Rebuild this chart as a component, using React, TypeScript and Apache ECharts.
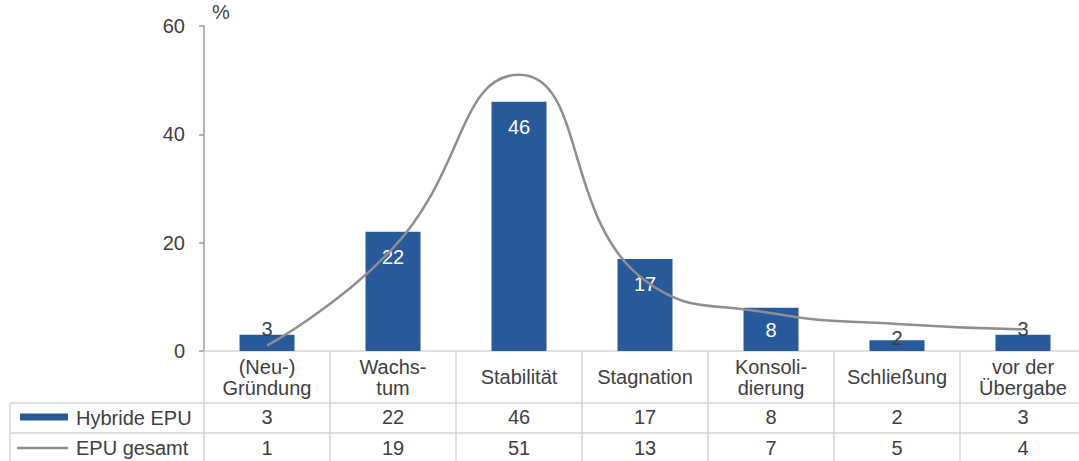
import React, { useEffect, useRef } from "react";
import * as echarts from "echarts";

// Phases of the business life cycle (category axis)
const categories = [
  "(Neu-)\nGründung",
  "Wachs-\ntum",
  "Stabilität",
  "Stagnation",
  "Konsoli-\ndierung",
  "Schließung",
  "vor der\nÜbergabe",
];

// Shares in percent
const hybrideEPU = [3, 22, 46, 17, 8, 2, 3];
const epuGesamt = [1, 19, 51, 13, 7, 5, 4];

const seriesNames = ["Hybride EPU", "EPU gesamt"];

// Value axis range
const yMin = 0;
const yMax = 60;
const yStep = 20;

const BAR_COLOR = "#285a9b";
const LINE_COLOR = "#8e8e8e";
const TEXT_COLOR = "#404040";
const TABLE_LINE = "#d6d6d6";
const FONT = "'Liberation Sans', Arial, sans-serif";
const FS = 20;

// Label placement per bar: tall bars carry the value inside, short ones just above
function barLabel(v: number) {
  if (v >= 8) {
    return {
      show: true,
      position: "insideTop",
      distance: v >= 10 ? 15 : 12,
      color: "#ffffff",
    };
  }
  return {
    show: true,
    position: "top",
    distance: v <= 2 ? -8 : -4,
    color: TEXT_COLOR,
  };
}

export default function App() {
  const ref = useRef<HTMLDivElement>(null);

  useEffect(() => {
    if (!ref.current) return;
    const chart = echarts.init(ref.current, undefined, { renderer: "svg" });

    const tableRowAxis = (values: number[], margin: number) => ({
      type: "category",
      data: values.map(String),
      position: "bottom",
      axisLine: { show: false },
      axisTick: { show: false },
      splitLine: { show: false },
      axisLabel: {
        margin,
        verticalAlign: "middle",
        fontSize: FS,
        fontFamily: FONT,
        color: TEXT_COLOR,
        interval: 0,
      },
    });

    const legendText = (name: string, y: number) => ({
      type: "text",
      x: 76,
      y,
      style: {
        text: name,
        fontSize: FS,
        fontFamily: FONT,
        fill: TEXT_COLOR,
        verticalAlign: "middle",
        align: "left",
      },
    });

    chart.setOption({
      animation: false,
      textStyle: { fontFamily: FONT },
      grid: { left: 204, right: 4, top: 26, bottom: 110, containLabel: false },
      xAxis: [
        {
          type: "category",
          data: categories,
          position: "bottom",
          boundaryGap: true,
          axisLine: { show: true, lineStyle: { color: TABLE_LINE, width: 1.5 } },
          axisTick: {
            show: true,
            alignWithLabel: false,
            length: 112,
            lineStyle: { color: TABLE_LINE, width: 1.5 },
          },
          axisLabel: {
            interval: 0,
            margin: 26,
            verticalAlign: "middle",
            fontSize: FS,
            lineHeight: 21,
            fontFamily: FONT,
            color: TEXT_COLOR,
          },
        },
        tableRowAxis(hybrideEPU, 66),
        tableRowAxis(epuGesamt, 97),
      ],
      yAxis: {
        type: "value",
        min: yMin,
        max: yMax,
        interval: yStep,
        name: "%",
        nameLocation: "end",
        nameGap: 4,
        nameTextStyle: {
          fontSize: FS,
          color: TEXT_COLOR,
          fontFamily: FONT,
          align: "left",
          verticalAlign: "bottom",
          padding: [0, 0, 0, 8],
        },
        axisLine: { show: true, lineStyle: { color: "#9a9a9a", width: 1.5 } },
        axisTick: { show: true, length: 5, lineStyle: { color: "#9a9a9a", width: 1.5 } },
        splitLine: { show: false },
        axisLabel: {
          margin: 19,
          fontSize: FS,
          fontFamily: FONT,
          color: TEXT_COLOR,
        },
      },
      series: [
        {
          name: seriesNames[0],
          type: "bar",
          xAxisIndex: 0,
          barWidth: 55,
          itemStyle: { color: BAR_COLOR },
          data: hybrideEPU.map((v) => ({ value: v, label: barLabel(v) })),
          label: { fontSize: FS, fontFamily: FONT },
          z: 2,
        },
        {
          name: seriesNames[1],
          type: "line",
          xAxisIndex: 0,
          smooth: 0.5,
          symbol: "none",
          showSymbol: false,
          lineStyle: { color: LINE_COLOR, width: 2.5 },
          itemStyle: { color: LINE_COLOR },
          data: epuGesamt,
          z: 3,
        },
      ],
      graphic: [
        // horizontal rules of the data table
        {
          type: "line",
          shape: { x1: 10, y1: 403, x2: 1090, y2: 403 },
          style: { stroke: TABLE_LINE, lineWidth: 1.5 },
        },
        {
          type: "line",
          shape: { x1: 10, y1: 433, x2: 1090, y2: 433 },
          style: { stroke: TABLE_LINE, lineWidth: 1.5 },
        },
        // left border of the table's legend column
        {
          type: "line",
          shape: { x1: 10, y1: 403, x2: 10, y2: 470 },
          style: { stroke: TABLE_LINE, lineWidth: 1.5 },
        },
        // legend keys in the table's first column
        {
          type: "rect",
          shape: { x: 20, y: 413.5, width: 48, height: 7 },
          style: { fill: BAR_COLOR },
        },
        legendText(seriesNames[0], 418),
        {
          type: "line",
          shape: { x1: 17, y1: 448, x2: 68, y2: 448 },
          style: { stroke: LINE_COLOR, lineWidth: 2.5 },
        },
        legendText(seriesNames[1], 448),
      ],
    });

    return () => chart.dispose();
  }, []);

  return (
    <div
      style={{
        position: "fixed",
        left: 0,
        top: 0,
        width: 1079,
        height: 461,
        overflow: "hidden",
        background: "#ffffff",
      }}
    >
      <div ref={ref} style={{ width: 1090, height: 461 }} />
    </div>
  );
}
